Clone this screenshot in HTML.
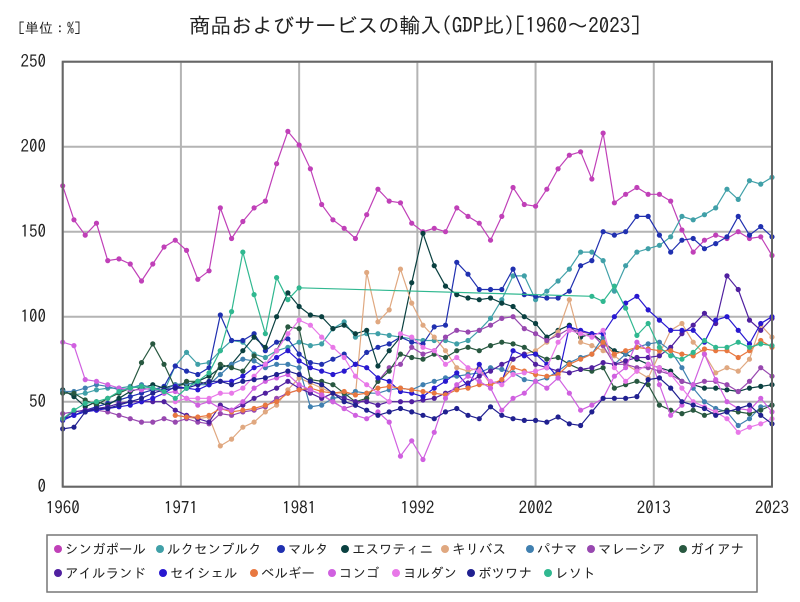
<!DOCTYPE html>
<html><head><meta charset="utf-8"><style>
body{margin:0;background:#fff;font-family:"IPAGothic","Liberation Sans",sans-serif}
svg text{font-family:"IPAGothic","Liberation Sans","Noto Sans CJK JP",sans-serif}
</style></head><body>
<svg id="chart" width="800" height="600" viewBox="0 0 800 600">
<text x="18" y="33" font-size="14" fill="#222">[単位：%]</text>
<text x="415" y="33" font-size="21" fill="#222" text-anchor="middle">商品およびサービスの輸入(GDP比)[1960～2023]</text>
<g id="grid"></g>
<g id="series"></g>
<rect x="62.7" y="61.7" width="709.3" height="425" fill="none" stroke="#666" stroke-width="2"/>
<g id="legend">
<rect x="47" y="535" width="710" height="57" fill="#fff" stroke="#777" stroke-width="1.5"/>
</g>
</svg>
<script>
const years=[];for(let y=1960;y<=2023;y++)years.push(y);
const xTickLabels=["1960","1971","1981","1992","2002","2013","2023"];
const yTicks=[0,50,100,150,200,250];
const names=["シンガポール","ルクセンブルク","マルタ","エスワティニ","キリバス","パナマ","マレーシア","ガイアナ","アイルランド","セイシェル","ベルギー","コンゴ","ヨルダン","ボツワナ","レソト"];
const colors=["#c040b8","#40a0a8","#2030b0","#0a4040","#e0a880","#4080b0","#9848b0","#285840","#5020a0","#2818d0","#e87840","#d060e0","#e878e8","#202090","#30b890"];
const N=null;
const singapore=[177,157,148,155,133,134,131,121,131,141,145,139,122,127,164,146,156,164,168,190,209,201,187,166,157,152,146,160,175,168,167,155,150,152,150,164,159,155,145,159,176,166,165,175,187,195,197,181,208,167,172,176,172,172,168,151,138,145,148,146,150,146,147,136];
const luxembourg=[56,54,55,57,58,58,59,58,57,56,71,79,72,73,80,86,85,78,76,80,82,85,83,84,93,97,88,90,90,89,88,87,86,86,86,84,86,92,99,110,124,124,110,115,121,128,138,138,133,115,130,138,140,142,147,159,157,160,164,175,169,180,178,182];
const malta=[40,42,45,47,49,51,53,55,57,59,71,68,66,70,101,86,86,90,80,85,87,78,73,72,75,78,72,79,82,84,88,85,84,94,95,132,125,116,116,116,128,113,112,111,111,115,130,133,150,148,150,159,159,148,138,145,146,140,143,147,159,148,153,147];
const eswatini=[57,53,47,50,48,52,56,58,60,58,60,60,62,65,70,72,80,88,82,100,114,106,101,100,93,95,90,92,71,80,88,120,149,130,118,113,111,110,111,108,106,100,96,88,92,95,88,90,85,80,78,75,72,70,68,62,60,58,58,57,56,58,59,60];
const kiribati=[N,N,N,N,N,N,N,N,N,N,42,41,40,41,24,28,35,38,44,48,57,64,61,58,55,55,54,126,97,104,128,108,95,88,80,70,68,70,60,62,75,78,80,85,91,110,85,83,80,77,72,68,64,78,92,96,85,78,67,70,68,75,95,88];
const panama=[56,56,58,60,59,57,58,60,58,57,60,61,60,60,66,72,75,74,70,72,72,70,47,48,52,53,56,55,55,57,58,57,60,62,64,65,66,67,70,69,67,63,62,64,68,73,76,78,88,72,78,82,84,85,80,70,58,50,46,44,36,40,47,48];
const malaysia=[43,44,45,45,44,42,40,38,38,40,38,40,38,37,43,42,44,45,47,52,55,57,57,54,50,46,48,52,62,70,72,82,78,80,88,92,91,92,95,99,100,93,90,86,89,93,91,90,83,72,72,70,70,68,66,62,60,62,62,60,56,62,70,65];
const guyana=[55,55,51,48,52,55,58,73,84,72,58,62,62,60,72,70,68,77,72,80,94,93,63,62,60,55,50,52,62,68,78,76,75,78,76,80,82,80,83,85,84,82,78,75,76,72,69,68,70,58,60,62,60,48,45,43,45,42,44,45,44,43,45,48];
const ireland=[40,44,45,46,47,49,50,50,50,50,45,42,40,38,48,45,48,52,55,58,62,58,55,52,55,52,50,50,48,50,50,50,51,52,55,58,61,65,68,72,75,78,72,70,68,67,69,70,73,72,74,76,76,77,82,90,95,102,96,124,116,98,92,99];
const seychelles=[39,42,44,45,46,47,48,50,52,55,59,58,57,60,62,62,65,70,72,76,80,74,70,68,66,68,72,70,64,62,56,55,53,58,62,67,59,72,61,62,80,77,78,72,64,94,92,90,90,100,108,112,104,98,92,92,92,85,98,100,92,84,96,100];
const belgium=[N,N,N,N,N,N,N,N,N,N,42,41,41,42,46,44,45,46,48,50,55,57,58,56,55,56,54,55,58,59,58,57,56,55,54,57,58,60,60,63,70,68,66,65,66,72,75,78,85,78,80,82,81,80,80,78,77,81,80,80,76,80,86,82];
const congo=[85,83,63,62,60,58,57,57,58,55,56,52,48,50,46,45,50,58,62,64,66,60,57,54,50,46,42,40,44,38,18,27,16,32,52,60,65,62,58,45,52,55,62,58,64,55,45,48,52,65,70,85,80,60,42,48,60,78,63,50,46,45,52,44];
const jordan=[N,N,N,N,N,N,N,N,N,N,50,52,52,52,55,55,58,65,72,80,90,98,95,88,82,76,65,60,55,50,90,88,82,80,72,76,70,68,62,60,66,67,68,70,85,92,90,88,92,70,62,68,72,70,66,58,50,47,44,40,32,35,37,40];
const botswana=[34,35,44,46,46,48,50,52,55,57,58,58,60,62,62,60,62,63,64,66,68,66,62,60,55,50,48,45,42,44,46,44,42,40,44,46,42,40,47,42,40,39,39,38,41,37,36,44,52,52,52,53,63,64,58,50,48,46,42,44,46,48,42,37];
const lesotho=[40,45,49,50,52,56,58,59,58,56,52,58,62,67,80,103,138,113,90,123,110,117,N,N,N,N,N,N,N,N,N,N,N,N,N,N,N,N,N,N,N,N,N,N,N,N,N,112,109,118,105,89,96,82,77,75,79,86,82,82,85,82,84,83];
const seriesData=[singapore,luxembourg,malta,eswatini,kiribati,panama,malaysia,guyana,ireland,seychelles,belgium,congo,jordan,botswana,lesotho];

const X0=62.7,X1=772,Y0=486.7,Y1=61.7;
const xs=y=>X0+(y-1960)/(2023-1960)*(X1-X0);
const ys=v=>Y0-v/250*(Y0-Y1);
const NS="http://www.w3.org/2000/svg";
const grid=document.getElementById('grid');
function mk(t,a,p){const e=document.createElementNS(NS,t);for(const k in a)e.setAttribute(k,a[k]);p.appendChild(e);return e;}
yTicks.forEach(v=>{
  const l=mk('line',{x1:X0,x2:X1,y1:ys(v),y2:ys(v),stroke:'#b4b4b4','stroke-width':2},grid);
  
  
  const t=mk('text',{x:46,y:ys(v)+6,'font-size':17,'text-anchor':'end',fill:'#222'},grid);
  t.textContent=v;
  
  
});
xTickLabels.forEach((s,i)=>{
  const x=X0+i*(X1-X0)/6;
  const l=mk('line',{x1:x,x2:x,y1:Y1,y2:Y0,stroke:'#b4b4b4','stroke-width':2},grid);
  
  
  const t=mk('text',{x:x,y:514,'font-size':17,'text-anchor':'middle',fill:'#222'},grid);
  t.textContent=s;
  
  
});
const sg=document.getElementById('series');
seriesData.forEach((arr,si)=>{
  const g=mk('g',{},sg);
  
  
  const pts=[];arr.forEach((v,i)=>{if(v!==null)pts.push([xs(years[i]),ys(v)]);});
  const pl=mk('polyline',{points:pts.map(p=>p.join(',')).join(' '),fill:'none',stroke:colors[si],'stroke-width':1.2},g);
  
  
  pts.forEach(p=>{
    const c=mk('circle',{cx:p[0],cy:p[1],r:2.6,fill:colors[si]},g);
    
    
  });
});
const lg=document.getElementById('legend');
const lx=[54,156,277,341,441,526,587,679,54,159,250,328,392,467,544];
names.forEach((n,i)=>{
  const y=i<8?549:573;
  const g=mk('g',{},lg);
  
  
  mk('circle',{cx:lx[i]+4,cy:y,r:4,fill:colors[i]},g);
  const t=mk('text',{x:lx[i]+11,y:y+5,'font-size':13.5,fill:'#222'},g);
  t.textContent=n;
});
</script>
</body></html>
